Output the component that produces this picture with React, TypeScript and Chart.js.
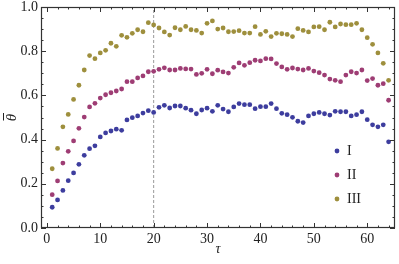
import { useEffect, useRef } from "react";
import { Chart, registerables } from "chart.js";

Chart.register(...registerables);

const taus = [1, 2, 3, 4, 5, 6, 7, 8, 9, 10, 11, 12, 13, 14, 15, 16, 17, 18, 19, 20, 21, 22, 23, 24, 25, 26, 27, 28, 29, 30, 31, 32, 33, 34, 35, 36, 37, 38, 39, 40, 41, 42, 43, 44, 45, 46, 47, 48, 49, 50, 51, 52, 53, 54, 55, 56, 57, 58, 59, 60, 61, 62, 63, 64];

const seriesI = [0.094, 0.127, 0.17, 0.214, 0.249, 0.288, 0.329, 0.359, 0.372, 0.412, 0.43, 0.439, 0.447, 0.442, 0.489, 0.499, 0.507, 0.52, 0.531, 0.523, 0.546, 0.555, 0.543, 0.552, 0.552, 0.542, 0.533, 0.517, 0.534, 0.542, 0.528, 0.555, 0.538, 0.526, 0.548, 0.563, 0.558, 0.558, 0.54, 0.549, 0.549, 0.563, 0.54, 0.519, 0.513, 0.501, 0.483, 0.477, 0.507, 0.517, 0.523, 0.517, 0.511, 0.528, 0.526, 0.526, 0.507, 0.513, 0.526, 0.49, 0.467, 0.458, 0.467, 0.39];

const seriesII = [0.151, 0.213, 0.294, 0.347, 0.394, 0.451, 0.502, 0.548, 0.564, 0.588, 0.603, 0.612, 0.62, 0.629, 0.662, 0.662, 0.679, 0.688, 0.707, 0.709, 0.718, 0.725, 0.715, 0.715, 0.722, 0.72, 0.719, 0.695, 0.7, 0.718, 0.698, 0.714, 0.706, 0.701, 0.727, 0.747, 0.736, 0.748, 0.759, 0.756, 0.766, 0.765, 0.744, 0.729, 0.718, 0.724, 0.719, 0.715, 0.722, 0.71, 0.703, 0.692, 0.674, 0.668, 0.662, 0.692, 0.707, 0.701, 0.715, 0.667, 0.676, 0.646, 0.653, 0.578];

const seriesIII = [0.268, 0.36, 0.458, 0.514, 0.582, 0.646, 0.715, 0.78, 0.766, 0.792, 0.804, 0.836, 0.822, 0.872, 0.863, 0.881, 0.897, 0.888, 0.929, 0.919, 0.905, 0.887, 0.873, 0.906, 0.897, 0.912, 0.897, 0.894, 0.882, 0.926, 0.937, 0.9, 0.905, 0.888, 0.889, 0.893, 0.882, 0.882, 0.911, 0.876, 0.89, 0.866, 0.881, 0.879, 0.876, 0.866, 0.902, 0.894, 0.887, 0.91, 0.911, 0.897, 0.931, 0.91, 0.923, 0.92, 0.92, 0.926, 0.897, 0.861, 0.831, 0.792, 0.745, 0.668];

const seriesLabels = ["I", "II", "III"];
const xTickValues = [0, 10, 20, 30, 40, 50, 60];
const yTickValues = [0, 0.2, 0.4, 0.6, 0.8, 1.0];
const markerTau = 20;

const colors = ["#3d3d9e", "#9e3d74", "#9e8f3d"];
const serif = "'Liberation Serif', 'DejaVu Serif', serif";
const textColor = "#222";
const frameColor = "#333";

const framePlugin = {
  id: "frameTicks",
  afterDraw(chart: any) {
    const { ctx, chartArea: a, scales } = chart;
    const xs = scales.x;
    const ys = scales.y;
    ctx.save();
    ctx.strokeStyle = frameColor;
    ctx.lineWidth = 1.2;
    ctx.strokeRect(a.left + 0.5, a.top + 0.5, a.right - a.left - 1, a.bottom - a.top - 1);
    ctx.lineWidth = 1;
    const major = 5;
    const minor = 2.5;
    for (let v = 0; v <= 64; v += 2) {
      const px = Math.round(xs.getPixelForValue(v)) + 0.5;
      const len = xTickValues.includes(v) ? major : minor;
      ctx.beginPath();
      ctx.moveTo(px, a.bottom);
      ctx.lineTo(px, a.bottom - len);
      ctx.moveTo(px, a.top);
      ctx.lineTo(px, a.top + len);
      ctx.stroke();
    }
    for (let k = 0; k <= 20; k++) {
      const v = k * 0.05;
      const py = Math.round(ys.getPixelForValue(v)) + 0.5;
      const len = k % 4 === 0 ? major : minor;
      ctx.beginPath();
      ctx.moveTo(a.left, py);
      ctx.lineTo(a.left + len, py);
      ctx.moveTo(a.right, py);
      ctx.lineTo(a.right - len, py);
      ctx.stroke();
    }
    // y axis title: theta with overbar, rotated
    ctx.save();
    ctx.translate(a.left - 30, (a.top + a.bottom) / 2);
    ctx.rotate(-Math.PI / 2);
    ctx.font = `italic 15px ${serif}`;
    ctx.fillStyle = textColor;
    ctx.textAlign = "center";
    ctx.textBaseline = "middle";
    ctx.fillText("θ", 0, 1);
    ctx.lineWidth = 1;
    ctx.strokeStyle = textColor;
    ctx.beginPath();
    ctx.moveTo(-3, -7.5);
    ctx.lineTo(4.5, -7.5);
    ctx.stroke();
    ctx.restore();
    // legend
    const lx = a.right - 58;
    const ly = a.top + 144;
    ctx.font = `14px ${serif}`;
    ctx.textBaseline = "middle";
    ctx.textAlign = "left";
    chart.data.datasets.slice(0, 3).forEach((ds: any, i: number) => {
      const cy = ly + i * 24;
      ctx.fillStyle = ds.backgroundColor;
      ctx.beginPath();
      ctx.arc(lx, cy, 2.4, 0, Math.PI * 2);
      ctx.fill();
      ctx.fillStyle = textColor;
      ctx.fillText(ds.label, lx + 10, cy + 0.5);
    });
    ctx.restore();
  },
};

export default function App() {
  const ref = useRef<HTMLCanvasElement | null>(null);
  useEffect(() => {
    document.body.style.margin = "0";
    if (!ref.current) return;
    const all = [seriesI, seriesII, seriesIII];
    const chart = new Chart(ref.current, {
      type: "scatter",
      data: {
        datasets: [
          ...all.map((s, i) => ({
            label: seriesLabels[i],
            data: taus.map((t, j) => ({ x: t, y: s[j] })),
            backgroundColor: colors[i],
            borderColor: colors[i],
            pointRadius: 2.4,
            pointBorderWidth: 0,
          })),
          {
            label: "marker",
            type: "line" as const,
            data: [
              { x: markerTau, y: 0 },
              { x: markerTau, y: 1 },
            ],
            borderColor: "#999",
            borderWidth: 1,
            borderDash: [3, 2],
            pointRadius: 0,
            showLine: true,
          },
        ],
      },
      options: {
        animation: false,
        responsive: true,
        maintainAspectRatio: false,
        layout: { padding: { top: 7, right: 1, left: 0, bottom: 0 } },
        plugins: { legend: { display: false }, tooltip: { enabled: false } },
        scales: {
          x: {
            type: "linear",
            min: -1.1,
            max: 65.2,
            grid: { display: false, drawTicks: false },
            border: { display: false },
            afterBuildTicks: (s: any) => {
              s.ticks = xTickValues.map((v) => ({ value: v }));
            },
            afterFit: (s: any) => {
              s.height = 36;
              s.paddingLeft = 0;
              s.paddingRight = 0;
            },
            ticks: {
              padding: 3,
              color: textColor,
              font: { family: serif, size: 14 },
              maxRotation: 0,
              autoSkip: false,
            },
            title: {
              display: true,
              text: "τ",
              color: textColor,
              font: { family: serif, size: 14, style: "italic" },
              padding: { top: 0, bottom: 6 },
            },
          },
          y: {
            type: "linear",
            min: 0,
            max: 1,
            grid: { display: false, drawTicks: false },
            border: { display: false },
            afterBuildTicks: (s: any) => {
              s.ticks = yTickValues.map((v) => ({ value: v }));
            },
            afterFit: (s: any) => {
              s.width = 41;
              s.paddingTop = 0;
              s.paddingBottom = 0;
            },
            ticks: {
              padding: 3,
              color: textColor,
              font: { family: serif, size: 14 },
              autoSkip: false,
              callback: (v: any) => Number(v).toFixed(1),
            },
          },
        },
      },
      plugins: [framePlugin],
    });
    return () => chart.destroy();
  }, []);
  return (
    <div style={{ position: "fixed", left: 0, top: 0, width: 399, height: 264 }}>
      <canvas ref={ref} />
    </div>
  );
}
